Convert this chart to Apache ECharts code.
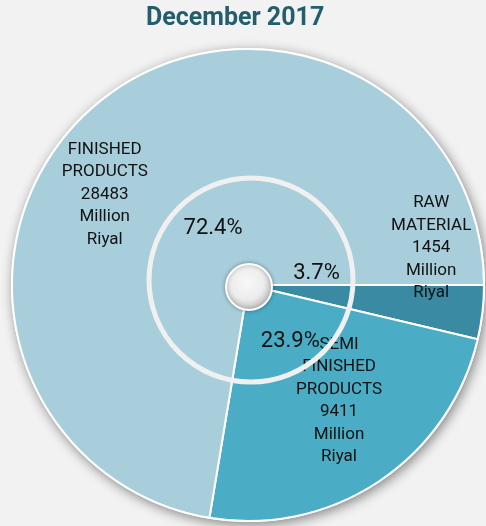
<!DOCTYPE html>
<html>
<head>
<meta charset="utf-8">
<script src="https://cdn.jsdelivr.net/npm/echarts@6/dist/echarts.min.js"></script>
<style>
html, body { margin: 0; padding: 0; background: #f2f2f2; }
#chart { width: 486px; height: 526px; }
</style>
</head>
<body>
<div id="chart"></div>
<script>
// data
const names = ['RAW\nMATERIAL', 'SEMI\nFINISHED\nPRODUCTS', 'FINISHED\nPRODUCTS']
const values = [1454, 9411, 28483]
const percents = ['3.7%', '23.9%', '72.4%']
const colors = ['#3b8aa3', '#4aadc5', '#a8cedb']

const cx = 248
const cy = 285
const R = 237

// label nudges (layout only)
const nameOffsets = [[63, -51], [24, 15], [-65, 2]]
const pctOffsets = [[-2, -20], [3, -3], [11, -2]]

const myChart = echarts.init(document.getElementById('chart'))

myChart.setOption({
  backgroundColor: '#f2f2f2',
  animation: false,
  title: {
    text: 'December 2017',
    left: 141,
    top: 1,
    textStyle: {
      fontFamily: 'Roboto',
      fontSize: 25,
      fontWeight: 'bold',
      color: '#245e6c'
    }
  },
  series: [
    // backing disc that carries the drop shadow
    {
      type: 'pie',
      silent: true,
      center: [cx, cy],
      radius: [0, R],
      label: { show: false },
      itemStyle: {
        color: '#ffffff',
        shadowBlur: 12,
        shadowColor: 'rgba(0,0,0,0.45)',
        shadowOffsetX: 2,
        shadowOffsetY: 3
      },
      data: [{ value: 1 }]
    },
    // the slices, with name + value labels
    {
      type: 'pie',
      center: [cx, cy],
      radius: [0, R - 1],
      startAngle: 0,
      clockwise: true,
      labelLayout: { hideOverlap: false },
      itemStyle: { borderColor: '#ffffff', borderWidth: 2 },
      label: {
        show: true,
        position: 'inside',
        fontFamily: 'Roboto',
        fontSize: 17,
        lineHeight: 22.5,
        color: '#111',
        formatter: p => p.name + '\n' + p.value + '\nMillion\nRiyal'
      },
      data: values.map((v, i) => ({
        name: names[i],
        value: v,
        itemStyle: { color: colors[i] },
        label: { offset: nameOffsets[i] }
      }))
    },
    // transparent overlay for percent labels
    {
      type: 'pie',
      silent: true,
      center: [cx, cy],
      radius: [0, 136],
      startAngle: 0,
      clockwise: true,
      z: 3,
      labelLayout: { hideOverlap: false },
      itemStyle: { color: 'rgba(0,0,0,0)' },
      label: {
        show: true,
        position: 'inside',
        fontFamily: 'Roboto',
        fontSize: 22,
        color: '#111',
        formatter: p => percents[p.dataIndex]
      },
      data: values.map((v, i) => ({
        name: 'p' + i,
        value: v,
        label: { offset: pctOffsets[i] }
      }))
    }
  ],
  graphic: [
    {
      type: 'circle',
      silent: true,
      shape: { cx: 251, cy: 280, r: 102 },
      style: { fill: 'none', stroke: '#f0f0f0', lineWidth: 5 },
      z: 10
    },
    {
      type: 'circle',
      silent: true,
      shape: { cx: 249, cy: 287, r: 23 },
      style: {
        fill: new echarts.graphic.RadialGradient(0.45, 0.4, 0.6, [
          { offset: 0, color: '#f8f8f8' },
          { offset: 0.6, color: '#ececec' },
          { offset: 1, color: '#bdbdbd' }
        ]),
        stroke: '#ffffff',
        lineWidth: 2,
        shadowBlur: 4,
        shadowColor: 'rgba(0,0,0,0.3)'
      },
      z: 11
    }
  ]
})
</script>
</body>
</html>
